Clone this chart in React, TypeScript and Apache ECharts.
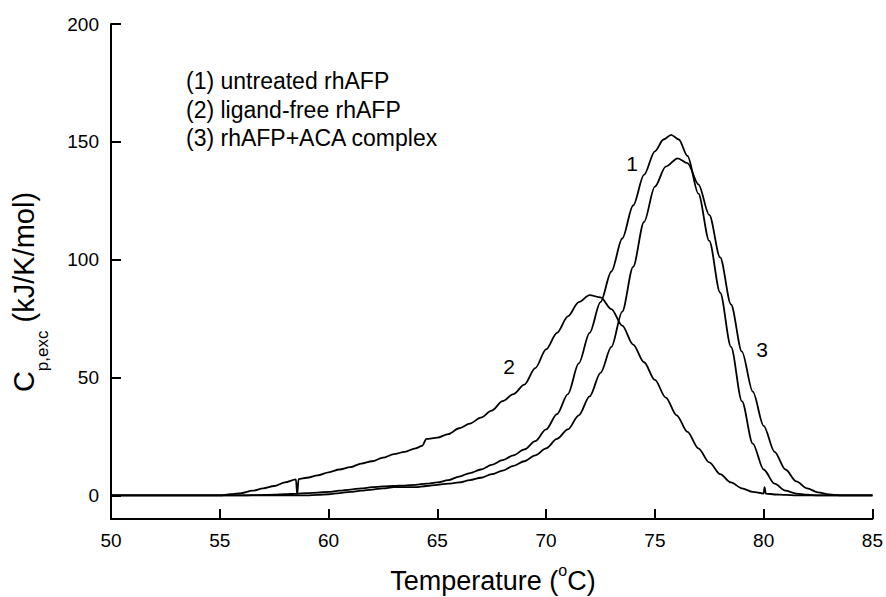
import React, { useEffect, useRef } from "react";
import * as echarts from "echarts";

const FONT = '"Liberation Sans", Arial, Helvetica, sans-serif';

// Axis ticks
const xTicks = [50, 55, 60, 65, 70, 75, 80, 85];
const yTicks = [0, 50, 100, 150, 200];

// Legend text and curve labels
const legendLines = ["(1) untreated rhAFP", "(2) ligand-free rhAFP", "(3) rhAFP+ACA complex"];
const curveLabels = ["1", "2", "3"];

// (1) untreated rhAFP
const untreatedT = [
  50, 51, 52, 53, 54, 55, 56, 56.5, 57, 57.5, 58, 58.5, 59, 59.5, 60, 60.5, 61, 61.5, 62, 62.5,
  63, 63.5, 64, 64.5, 65, 65.5, 66, 66.5, 67, 67.5, 68, 68.5, 69, 69.5, 70, 70.5, 71, 71.5, 72,
  72.5, 73, 73.5, 74, 74.5, 75, 75.4, 75.75, 76.1, 76.5, 77, 77.5, 78, 78.5, 79, 79.5, 80, 80.5,
  81, 81.5, 82, 82.5, 83, 84, 85,
];
const untreatedCp = [
  0, 0, 0, 0, 0, 0, 0, 0.1, 0.2, 0.3, 0.5, 0.7, 1, 1.2, 1.5, 2, 2.5, 3, 3.5, 3.8,
  4, 4.2, 4.5, 5, 5.5, 6.5, 8, 9.5, 11, 13, 15, 17, 19.5, 23, 28, 34.5, 43, 56, 69,
  82, 95, 109, 123, 136, 146, 151, 153, 151, 144, 128, 108, 86, 63, 40, 22, 11, 5,
  2, 0.8, 0.3, 0, 0, 0, 0,
];

// (2) ligand-free rhAFP
const ligandFreeT = [
  50, 51, 52, 53, 54, 55, 55.5, 56, 56.5, 57, 57.5, 58, 58.5, 58.56, 58.62, 59, 59.5, 60, 60.5,
  61, 61.5, 62, 62.5, 63, 63.5, 64, 64.3, 64.5, 65, 65.5, 66, 66.5, 67, 67.5, 68, 68.5, 69, 69.5,
  70, 70.5, 71, 71.5, 72, 72.5, 73, 73.5, 74, 74.5, 75, 75.5, 76, 76.5, 77, 77.5, 78, 78.5, 79,
  79.5, 80, 80.04, 80.1, 80.5, 81, 81.5, 82, 83, 84, 85,
];
const ligandFreeCp = [
  0, 0, 0, 0, 0, 0, 0.5, 1, 2, 3, 4, 5.5, 6.8, 0.3, 6.9, 7.5, 8.5, 9.8, 11,
  12, 13.5, 14.5, 16, 17.5, 18.5, 20, 21, 24, 24.5, 26, 28.5, 30.5, 33, 36, 40, 43, 47, 54,
  62, 69, 76, 82, 85, 84, 79, 72, 64, 56.5, 49, 41.5, 34, 27, 20, 14, 9, 5.5, 3,
  1.5, 0.8, 3.5, 0.8, 0.4, 0.2, 0, 0, 0, 0, 0,
];

// (3) rhAFP+ACA complex
const complexT = [
  50, 51, 52, 53, 54, 55, 56, 57, 58, 59, 59.5, 60, 60.5, 61, 61.5, 62, 62.5, 63, 63.5, 64, 64.5,
  65, 65.5, 66, 66.5, 67, 67.5, 68, 68.5, 69, 69.5, 70, 70.5, 71, 71.5, 72, 72.5, 73, 73.5, 74,
  74.5, 75, 75.5, 76.05, 76.5, 77, 77.5, 78, 78.5, 79, 79.5, 80, 80.5, 81, 81.5, 82, 82.5, 83,
  83.5, 84, 85,
];
const complexCp = [
  0, 0, 0, 0, 0, 0, 0, 0, 0, 0, 0.2, 0.5, 1, 1.5, 2, 2.5, 3, 3.5, 3.5, 3.5, 4,
  4.5, 5, 5.5, 6.5, 7.5, 9, 10.5, 12.5, 14.5, 17, 20, 24, 28, 34, 42, 52, 63, 78, 97,
  116, 131, 139.5, 143, 141, 132, 119, 101, 81, 61, 44, 29.5, 18.5, 11, 6, 3, 1.3, 0.4,
  0, 0, 0,
];

const toPairs = (t: number[], v: number[]) => t.map((x, i) => [x, v[i]]);

const seriesDefs = [
  { name: "untreated rhAFP", t: untreatedT, v: untreatedCp },
  { name: "ligand-free rhAFP", t: ligandFreeT, v: ligandFreeCp },
  { name: "rhAFP+ACA complex", t: complexT, v: complexCp },
];

export default function App() {
  const ref = useRef<HTMLDivElement>(null);

  useEffect(() => {
    if (!ref.current) return;
    const chart = echarts.init(ref.current, undefined, { renderer: "svg" });

    const textBase = { fontFamily: FONT, fill: "#000" };

    chart.setOption({
      animation: false,
      backgroundColor: "#fff",
      grid: { left: 111, right: 11, top: 24, bottom: 78, containLabel: false },
      xAxis: {
        type: "value",
        min: 50,
        max: 85,
        interval: 5,
        axisLine: { show: true, onZero: false, lineStyle: { color: "#000", width: 2 } },
        axisTick: { show: true, inside: true, length: 10, lineStyle: { color: "#000", width: 2 } },
        axisLabel: {
          fontFamily: FONT,
          fontSize: 19,
          color: "#000",
          margin: 12,
          customValues: xTicks,
        },
        splitLine: { show: false },
      },
      yAxis: {
        type: "value",
        min: -10,
        max: 200,
        axisLine: { show: true, onZero: false, lineStyle: { color: "#000", width: 2 } },
        axisTick: {
          show: true,
          inside: true,
          length: 10,
          customValues: yTicks,
          lineStyle: { color: "#000", width: 2 },
        },
        axisLabel: {
          fontFamily: FONT,
          fontSize: 19,
          color: "#000",
          margin: 12,
          customValues: yTicks,
        },
        splitLine: { show: false },
      },
      series: seriesDefs.map((s) => ({
        name: s.name,
        type: "line",
        data: toPairs(s.t, s.v),
        showSymbol: false,
        symbol: "none",
        smooth: 0.3,
        smoothMonotone: "x",
        lineStyle: { color: "#000", width: 1.8 },
        emphasis: { disabled: true },
      })),
      graphic: [
        {
          type: "text",
          x: 493,
          y: 581,
          style: {
            ...textBase,
            text: "Temperature ({sup|o}C)",
            fontSize: 27,
            lineHeight: 38,
            align: "center",
            verticalAlign: "middle",
            rich: {
              sup: { fontFamily: FONT, fontSize: 16, lineHeight: 14, verticalAlign: "top", fill: "#000" },
            },
          },
        },
        {
          type: "text",
          x: 24,
          y: 292,
          rotation: Math.PI / 2,
          style: {
            ...textBase,
            text: "C{sub|p,exc} (kJ/K/mol)",
            fontSize: 29,
            lineHeight: 54,
            align: "center",
            verticalAlign: "middle",
            rich: {
              sub: { fontFamily: FONT, fontSize: 17, lineHeight: 19, verticalAlign: "bottom", fill: "#000" },
            },
          },
        },
        ...legendLines.map((txt, i) => ({
          type: "text",
          x: 186,
          y: 81 + i * 28.7,
          style: { ...textBase, text: txt, fontSize: 23, align: "left", verticalAlign: "middle" },
        })),
        {
          type: "text",
          x: 632,
          y: 163,
          style: { ...textBase, text: curveLabels[0], fontSize: 21, align: "center", verticalAlign: "middle" },
        },
        {
          type: "text",
          x: 509,
          y: 366,
          style: { ...textBase, text: curveLabels[1], fontSize: 21, align: "center", verticalAlign: "middle" },
        },
        {
          type: "text",
          x: 762,
          y: 349,
          style: { ...textBase, text: curveLabels[2], fontSize: 21, align: "center", verticalAlign: "middle" },
        },
      ],
    });

    return () => chart.dispose();
  }, []);

  return (
    <div
      ref={ref}
      style={{ position: "fixed", left: 0, top: 0, width: 886, height: 597, background: "#fff" }}
    />
  );
}
